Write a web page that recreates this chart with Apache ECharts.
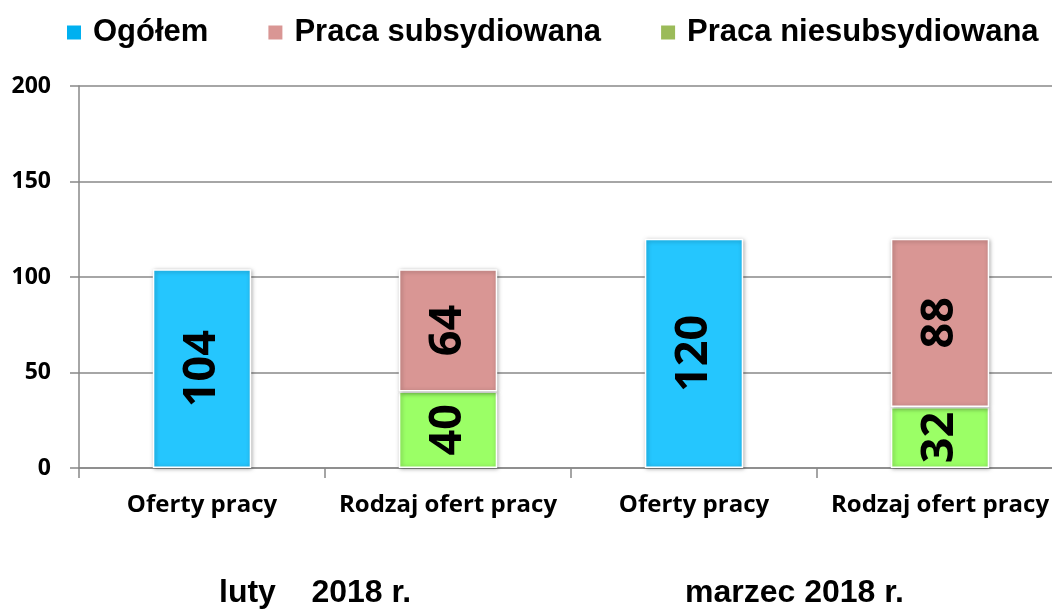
<!DOCTYPE html>
<html>
<head>
<meta charset="utf-8">
<script src="https://cdn.jsdelivr.net/npm/echarts@6/dist/echarts.min.js"></script>
<style>
  html, body { margin: 0; padding: 0; background: #fff; }
  #main { width: 1052px; height: 609px; }
</style>
</head>
<body>
<div id="main"></div>
<script>
  // dane
  var categories = ['Oferty pracy', 'Rodzaj ofert pracy', 'Oferty pracy', 'Rodzaj ofert pracy'];
  var periods = ['luty    2018 r.', 'marzec 2018 r.'];
  var ogolem = [104, '-', 120, '-'];
  var subsydiowana = ['-', 64, '-', 88];
  var niesubsydiowana = ['-', 40, '-', 32];
  var yTicks = { min: 0, max: 200, interval: 50 };

  var narrow = '"Liberation Sans Narrow", "Arial Narrow", "Liberation Sans", sans-serif';
  var body = '"Open Sans", "Noto Sans", sans-serif';

  var myChart = echarts.init(document.getElementById('main'));

  function barSeries(name, data, color) {
    return {
      name: name,
      type: 'bar',
      stack: 'all',
      barWidth: '40%',
      data: data,
      itemStyle: {
        color: color,
        borderColor: '#fff',
        borderWidth: 1.5,
        shadowColor: 'rgba(0,0,0,0.35)',
        shadowBlur: 4,
        shadowOffsetX: 1,
        shadowOffsetY: 1
      },
      label: {
        show: true,
        position: 'inside',
        rotate: 90,
        color: '#000',
        fontFamily: body,
        fontWeight: 'bold',
        fontSize: 45
      }
    };
  }

  var option = {
    animation: false,
    legend: {
      top: 12,
      left: 62,
      itemWidth: 14,
      itemHeight: 14,
      itemGap: 60,
      icon: 'rect',
      textStyle: {
        fontFamily: narrow,
        fontWeight: 'bold',
        fontSize: 31,
        color: '#000',
        padding: [0, 0, 0, 7]
      },
      data: [
        { name: 'Ogółem', itemStyle: { color: '#00B0F0', borderWidth: 0, shadowBlur: 0 } },
        { name: 'Praca subsydiowana', itemStyle: { color: '#D99694', borderWidth: 0, shadowBlur: 0 } },
        { name: 'Praca niesubsydiowana', itemStyle: { color: '#9BBB59', borderWidth: 0, shadowBlur: 0 } }
      ]
    },
    grid: {
      left: 79,
      width: 984,
      top: 86,
      bottom: 141,
      outerBoundsMode: 'none'
    },
    xAxis: {
      type: 'category',
      data: categories,
      axisLine: { lineStyle: { color: '#888', width: 1.5 } },
      axisTick: { show: true, length: 10, lineStyle: { color: '#888', width: 1.5 } },
      axisLabel: {
        interval: 0,
        margin: 25,
        color: '#000',
        fontFamily: body,
        fontWeight: 'bold',
        fontSize: 24
      }
    },
    yAxis: {
      type: 'value',
      min: yTicks.min,
      max: yTicks.max,
      interval: yTicks.interval,
      axisLine: { show: true, lineStyle: { color: '#888', width: 1.5 } },
      axisTick: { show: true, length: 9, lineStyle: { color: '#888', width: 1.5 } },
      splitLine: { lineStyle: { color: '#888', width: 1.5 } },
      axisLabel: {
        margin: 28,
        color: '#000',
        fontFamily: body,
        fontWeight: 'bold',
        fontSize: 23
      }
    },
    graphic: [
      {
        type: 'text', left: 219, top: 577,
        style: { text: periods[0], fontFamily: narrow, fontWeight: 'bold', fontSize: 32, fill: '#000' }
      },
      {
        type: 'text', left: 685, top: 577,
        style: { text: periods[1], fontFamily: narrow, fontWeight: 'bold', fontSize: 32, fill: '#000' }
      }
    ],
    series: [
      barSeries('Ogółem', ogolem, '#25C6FE'),
      barSeries('Praca niesubsydiowana', niesubsydiowana, '#9BFF66'),
      barSeries('Praca subsydiowana', subsydiowana, '#D99694')
    ]
  };

  myChart.setOption(option);
</script>
</body>
</html>
